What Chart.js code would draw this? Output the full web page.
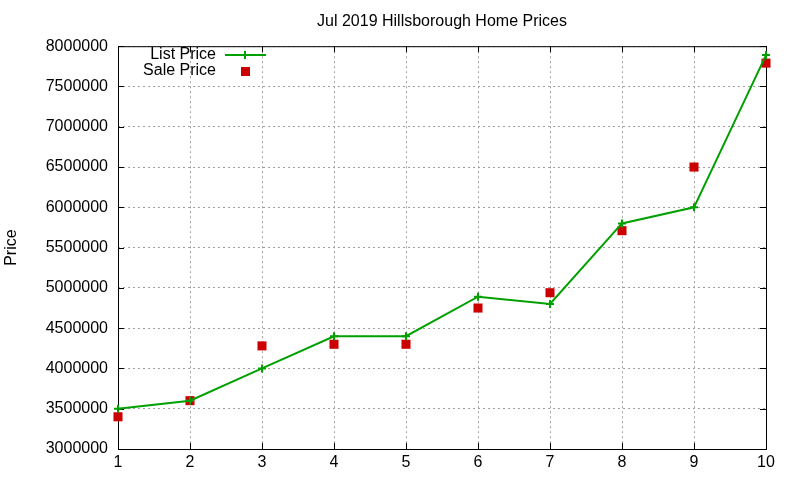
<!DOCTYPE html>
<html>
<head>
<meta charset="utf-8">
<script src="https://cdn.jsdelivr.net/npm/chart.js@4/dist/chart.umd.min.js"></script>
<style>
  html, body { margin: 0; padding: 0; background: #fff; }
  #wrap { width: 800px; height: 480px; }
</style>
</head>
<body>
<div id="wrap"><canvas id="priceChart"></canvas></div>
<script>
// data
const months = [1, 2, 3, 4, 5, 6, 7, 8, 9, 10];
const listPrice = [3500000, 3600000, 4000000, 4400000, 4400000, 4890000, 4800000, 5800000, 6000000, 7890000];
const salePrice = [3400000, 3600000, 4280000, 4300000, 4300000, 4750000, 4940000, 5710000, 6500000, 7790000];
const yTicks = [3000000, 3500000, 4000000, 4500000, 5000000, 5500000, 6000000, 6500000, 7000000, 7500000, 8000000];

const FONT = 'Liberation Sans, Arial, sans-serif';
const GREEN = '#00a000';
const RED = '#cc0000';

// gnuplot style frame: black box with short inward ticks
const framePlugin = {
    id: 'frame',
    beforeDatasetsDraw(chart) {
        const { ctx, chartArea: a, scales } = chart;
        ctx.save();
        ctx.strokeStyle = '#000';
        ctx.lineWidth = 1;
        ctx.strokeRect(a.left + 0.5, a.top + 0.5, a.right - a.left, a.bottom - a.top);
        ctx.beginPath();
        yTicks.forEach(v => {
            const y = Math.round(scales.y.getPixelForValue(v)) + 0.5;
            ctx.moveTo(a.left, y); ctx.lineTo(a.left + 6, y);
            ctx.moveTo(a.right, y); ctx.lineTo(a.right - 6, y);
        });
        months.forEach(v => {
            const x = Math.round(scales.x.getPixelForValue(v)) + 0.5;
            ctx.moveTo(x, a.bottom); ctx.lineTo(x, a.bottom - 6);
            ctx.moveTo(x, a.top); ctx.lineTo(x, a.top + 6);
        });
        ctx.stroke();
        ctx.restore();
    }
};

// key in the top left corner
const keyPlugin = {
    id: 'key',
    afterDraw(chart) {
        const ctx = chart.ctx;
        ctx.save();
        ctx.font = '16px ' + FONT;
        ctx.fillStyle = '#000';
        ctx.textAlign = 'right';
        ctx.textBaseline = 'middle';
        ctx.fillText('List Price', 216, 55);
        ctx.fillText('Sale Price', 216, 71);
        ctx.strokeStyle = GREEN;
        ctx.lineWidth = 2;
        ctx.beginPath();
        ctx.moveTo(225, 55); ctx.lineTo(266, 55);
        ctx.moveTo(245, 51); ctx.lineTo(245, 59);
        ctx.stroke();
        ctx.fillStyle = RED;
        ctx.fillRect(241, 67, 9, 9);
        ctx.restore();
    }
};

const ctx = document.getElementById('priceChart').getContext('2d');
new Chart(ctx, {
    type: 'scatter',
    data: {
        datasets: [
            {
                label: 'List Price',
                data: months.map((m, i) => ({ x: m, y: listPrice[i] })),
                showLine: true,
                borderColor: GREEN,
                borderWidth: 2,
                pointStyle: 'cross',
                pointRadius: 4,
                pointBorderColor: GREEN,
                pointBorderWidth: 2,
                clip: false
            },
            {
                label: 'Sale Price',
                data: months.map((m, i) => ({ x: m, y: salePrice[i] })),
                showLine: false,
                pointStyle: 'rect',
                pointRadius: 6.4,
                pointBackgroundColor: RED,
                pointBorderColor: RED,
                pointBorderWidth: 0,
                clip: false
            }
        ]
    },
    options: {
        responsive: true,
        maintainAspectRatio: false,
        animation: false,
        layout: { padding: { left: 0, right: 34, top: 0, bottom: 0 } },
        plugins: {
            legend: { display: false },
            tooltip: { enabled: false },
            title: {
                display: true,
                fullSize: false,
                text: 'Jul 2019 Hillsborough Home Prices',
                color: '#000',
                font: { family: FONT, size: 16, weight: 'normal' },
                padding: { top: 12, bottom: 15 }
            }
        },
        scales: {
            x: {
                type: 'linear',
                min: 1,
                max: 10,
                afterFit(scale) { scale.height = 31; },
                afterBuildTicks(scale) { scale.ticks = months.map(v => ({ value: v })); },
                ticks: {
                    color: '#000',
                    font: { family: FONT, size: 16 },
                    padding: 4,
                    maxRotation: 0
                },
                grid: { color: '#a0a0a0', drawTicks: false },
                border: { display: false, dash: [2, 3] }
            },
            y: {
                min: 3000000,
                max: 8000000,
                afterFit(scale) { scale.width = 118; },
                afterBuildTicks(scale) { scale.ticks = yTicks.map(v => ({ value: v })); },
                ticks: {
                    color: '#000',
                    font: { family: FONT, size: 16 },
                    padding: 10,
                    callback: v => String(v)
                },
                grid: { color: '#a0a0a0', drawTicks: false },
                border: { display: false, dash: [2, 3] },
                title: {
                    display: true,
                    text: 'Price',
                    color: '#000',
                    font: { family: FONT, size: 16 },
                    padding: { top: 2, bottom: 0 }
                }
            }
        }
    },
    plugins: [framePlugin, keyPlugin]
});
</script>
</body>
</html>
